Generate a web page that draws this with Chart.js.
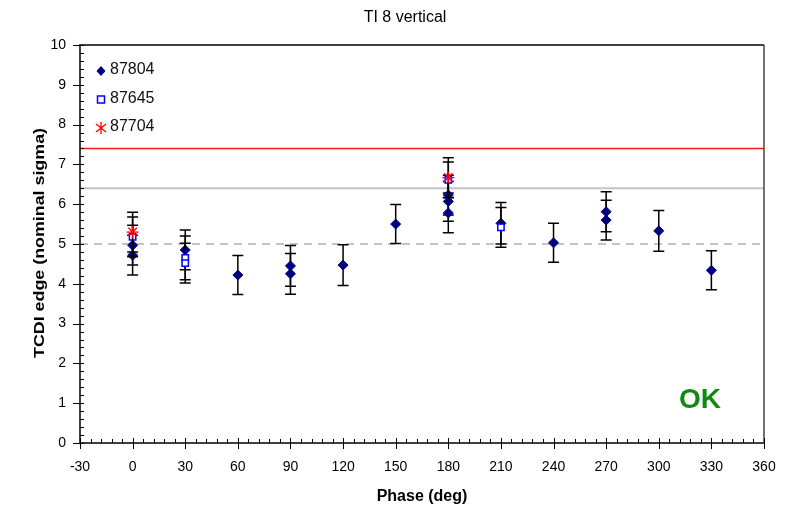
<!DOCTYPE html>
<html>
<head>
<meta charset="utf-8">
<script src="https://cdn.jsdelivr.net/npm/chart.js@4.4.0/dist/chart.umd.min.js"></script>
<style>
  html, body { margin: 0; padding: 0; background: #fff; }
</style>
</head>
<body>
<canvas id="chart" width="792" height="512"></canvas>
<script>
// ============================
// Data
// ============================
const phases87804 = [0, 0, 30, 60, 90, 90, 120, 150, 180, 180, 180, 210, 240, 270, 270, 300, 330];
const values87804 = [4.97, 4.72, 4.85, 4.22, 4.45, 4.25, 4.47, 5.50, 6.23, 6.07, 5.78, 5.52, 5.03, 5.81, 5.60, 5.33, 4.34];
const errors87804 = [0.50, 0.50, 0.50, 0.49, 0.51, 0.51, 0.51, 0.49, 0.50, 0.50, 0.50, 0.52, 0.49, 0.50, 0.50, 0.51, 0.49];

const phases87645 = [0, 30, 30, 180, 210];
const values87645 = [5.18, 4.65, 4.52, 6.61, 5.42];
const errors87645 = [0.50, 0.55, 0.50, 0.45, 0.50];

const phases87704 = [0, 180];
const values87704 = [5.30, 6.67];
const errors87704 = [0.50, 0.50];

const seriesNames = ['87804', '87645', '87704'];

const lineRange = [-30, 360];
const redLimit = 7.4;
const greyLimit = 6.4;
const nominalLevel = 5.0;

const xTickMin = -30, xTickMax = 360, xTickStep = 30, xMinorStep = 6;
const yTickMin = 0, yTickMax = 10, yTickStep = 1, yMinorStep = 0.2;

const chartTitle = 'TI 8 vertical';
const xTitle = 'Phase (deg)';
const yTitle = 'TCDI edge (nominal sigma)';
const statusText = 'OK';

const FONT = "'Liberation Sans', Arial, sans-serif";

function points(xs, ys) {
    return xs.map((x, i) => ({ x: x, y: ys[i] }));
}
function flatLine(level) {
    return lineRange.map(x => ({ x: x, y: level }));
}

// ============================
// Error bars + frame + texts
// ============================
const errorBars = {
    id: 'errorBars',
    beforeDatasetDraw(chart, args) {
        const ds = chart.data.datasets[args.index];
        if (!ds.errors) return;
        const xs = chart.scales.x, ys = chart.scales.y;
        const ctx = chart.ctx;
        ctx.save();
        ctx.strokeStyle = '#000';
        ctx.lineWidth = 1.5;
        ds.data.forEach((p, i) => {
            const px = xs.getPixelForValue(p.x);
            const top = ys.getPixelForValue(p.y + ds.errors[i]);
            const bot = ys.getPixelForValue(p.y - ds.errors[i]);
            ctx.beginPath();
            ctx.moveTo(px, top); ctx.lineTo(px, bot);
            ctx.moveTo(px - 5.5, top); ctx.lineTo(px + 5.5, top);
            ctx.moveTo(px - 5.5, bot); ctx.lineTo(px + 5.5, bot);
            ctx.stroke();
        });
        ctx.restore();
    }
};

function drawMarker(ctx, style, x, y) {
    ctx.save();
    if (style === 'rectRot') {
        ctx.fillStyle = '#00007f';
        ctx.beginPath();
        ctx.moveTo(x, y - 5); ctx.lineTo(x + 4.5, y); ctx.lineTo(x, y + 5); ctx.lineTo(x - 4.5, y);
        ctx.closePath();
        ctx.fill();
    } else if (style === 'rect') {
        ctx.strokeStyle = '#0000ff';
        ctx.fillStyle = '#fff';
        ctx.lineWidth = 1.5;
        ctx.fillRect(x - 3.5, y - 3.5, 7, 7);
        ctx.strokeRect(x - 3.5, y - 3.5, 7, 7);
    } else {
        ctx.strokeStyle = '#ff0000';
        ctx.lineWidth = 1.3;
        ctx.beginPath();
        ctx.moveTo(x, y - 6); ctx.lineTo(x, y + 6);
        ctx.moveTo(x - 5, y - 4); ctx.lineTo(x + 5, y + 4);
        ctx.moveTo(x - 5, y + 4); ctx.lineTo(x + 5, y - 4);
        ctx.stroke();
    }
    ctx.restore();
}

const frameAndText = {
    id: 'frameAndText',
    afterDraw(chart) {
        const ctx = chart.ctx;
        const a = chart.chartArea;
        const xs = chart.scales.x, ys = chart.scales.y;
        ctx.save();

        // frame
        ctx.lineWidth = 1.5;
        ctx.strokeStyle = '#000';
        ctx.beginPath();
        ctx.moveTo(a.right, a.top); ctx.lineTo(a.left, a.top);
        ctx.lineTo(a.left, a.bottom); ctx.lineTo(a.right, a.bottom);
        ctx.stroke();
        ctx.strokeStyle = '#444';
        ctx.beginPath();
        ctx.moveTo(a.right, a.top); ctx.lineTo(a.right, a.bottom);
        ctx.stroke();

        // tick marks
        ctx.strokeStyle = '#000';
        ctx.lineWidth = 1;
        ctx.beginPath();
        for (let v = xTickMin; v <= xTickMax + 0.001; v += xMinorStep) {
            const px = Math.round(xs.getPixelForValue(v)) + 0.5;
            const major = Math.abs(((v - xTickMin) % xTickStep)) < 0.001;
            ctx.moveTo(px, a.bottom - (major ? 5 : 4));
            ctx.lineTo(px, a.bottom + (major ? 6 : 0));
        }
        for (let v = yTickMin; v <= yTickMax + 0.001; v += yMinorStep) {
            const py = Math.round(ys.getPixelForValue(v)) + 0.5;
            const major = Math.abs(v - Math.round(v)) < 0.001;
            ctx.moveTo(a.left - (major ? 7 : 0), py);
            ctx.lineTo(a.left + 4, py);
        }
        ctx.stroke();

        // title
        ctx.fillStyle = '#000';
        ctx.font = '16px ' + FONT;
        ctx.textAlign = 'center';
        ctx.textBaseline = 'middle';
        ctx.fillText(chartTitle, 405, 18);

        // y axis title, stretched along its length like the picture
        ctx.save();
        ctx.font = 'bold 15px ' + FONT;
        const w = ctx.measureText(yTitle).width;
        ctx.translate(40, 243);
        ctx.rotate(-Math.PI / 2);
        ctx.scale(230 / w, 1);
        ctx.fillText(yTitle, 0, 0);
        ctx.restore();

        // legend
        const styles = ['rectRot', 'rect', 'star'];
        ctx.font = '16px ' + FONT;
        ctx.textAlign = 'left';
        seriesNames.forEach((name, i) => {
            const y = 70 + i * 28.5;
            drawMarker(ctx, styles[i], 101, y + 1);
            ctx.fillStyle = '#111';
            ctx.fillText(name, 110, y);
        });

        // status
        ctx.fillStyle = '#128a12';
        ctx.font = 'bold 28px ' + FONT;
        ctx.textAlign = 'center';
        ctx.fillText(statusText, 700, 400);
        ctx.restore();
    }
};

// ============================
// Chart
// ============================
const ctx = document.getElementById('chart').getContext('2d');
new Chart(ctx, {
    type: 'scatter',
    data: {
        datasets: [
            {
                label: 'limit', type: 'line', data: flatLine(redLimit), order: 10,
                borderColor: '#ff1a1a', borderWidth: 1.5, pointRadius: 0, fill: false
            },
            {
                label: 'grey', type: 'line', data: flatLine(greyLimit), order: 10,
                borderColor: '#c4c4c4', borderWidth: 2, pointRadius: 0, fill: false
            },
            {
                label: 'nominal', type: 'line', data: flatLine(nominalLevel), order: 10,
                borderColor: '#c4c4c4', borderWidth: 2, borderDash: [8, 6], pointRadius: 0, fill: false
            },
            {
                label: seriesNames[0], data: points(phases87804, values87804), errors: errors87804, order: 3,
                pointStyle: 'rectRot', pointRadius: 5, backgroundColor: '#00007f', borderColor: '#00007f', borderWidth: 1
            },
            {
                label: seriesNames[1], data: points(phases87645, values87645), errors: errors87645, order: 2,
                pointStyle: 'rect', pointRadius: 4.5, backgroundColor: '#ffffff', borderColor: '#0000ff', borderWidth: 1.5
            },
            {
                label: seriesNames[2], data: points(phases87704, values87704), errors: errors87704, order: 1,
                pointStyle: 'star', pointRadius: 6, backgroundColor: '#ff0000', borderColor: '#ff0000', borderWidth: 1.3
            }
        ]
    },
    options: {
        responsive: false,
        devicePixelRatio: 1,
        animation: false,
        events: [],
        layout: { padding: { top: 45, right: 28, left: 0, bottom: 0 } },
        plugins: {
            legend: { display: false },
            tooltip: { enabled: false },
            title: { display: false }
        },
        scales: {
            x: {
                type: 'linear', min: xTickMin, max: xTickMax,
                afterFit(scale) { scale.height = 69; },
                grid: { display: false, drawTicks: false },
                border: { display: false },
                ticks: { stepSize: xTickStep, padding: 16, color: '#000', font: { family: FONT, size: 14 } },
                title: { display: true, text: xTitle, color: '#000', padding: { top: 0, bottom: 6 },
                         font: { family: FONT, size: 16, weight: 'bold' } }
            },
            y: {
                type: 'linear', min: yTickMin, max: yTickMax,
                afterFit(scale) { scale.width = 80; },
                grid: { display: false, drawTicks: false },
                border: { display: false },
                ticks: { stepSize: yTickStep, padding: 14, color: '#000', font: { family: FONT, size: 14 } },
                title: { display: false }
            }
        }
    },
    plugins: [errorBars, frameAndText]
});
</script>
</body>
</html>
